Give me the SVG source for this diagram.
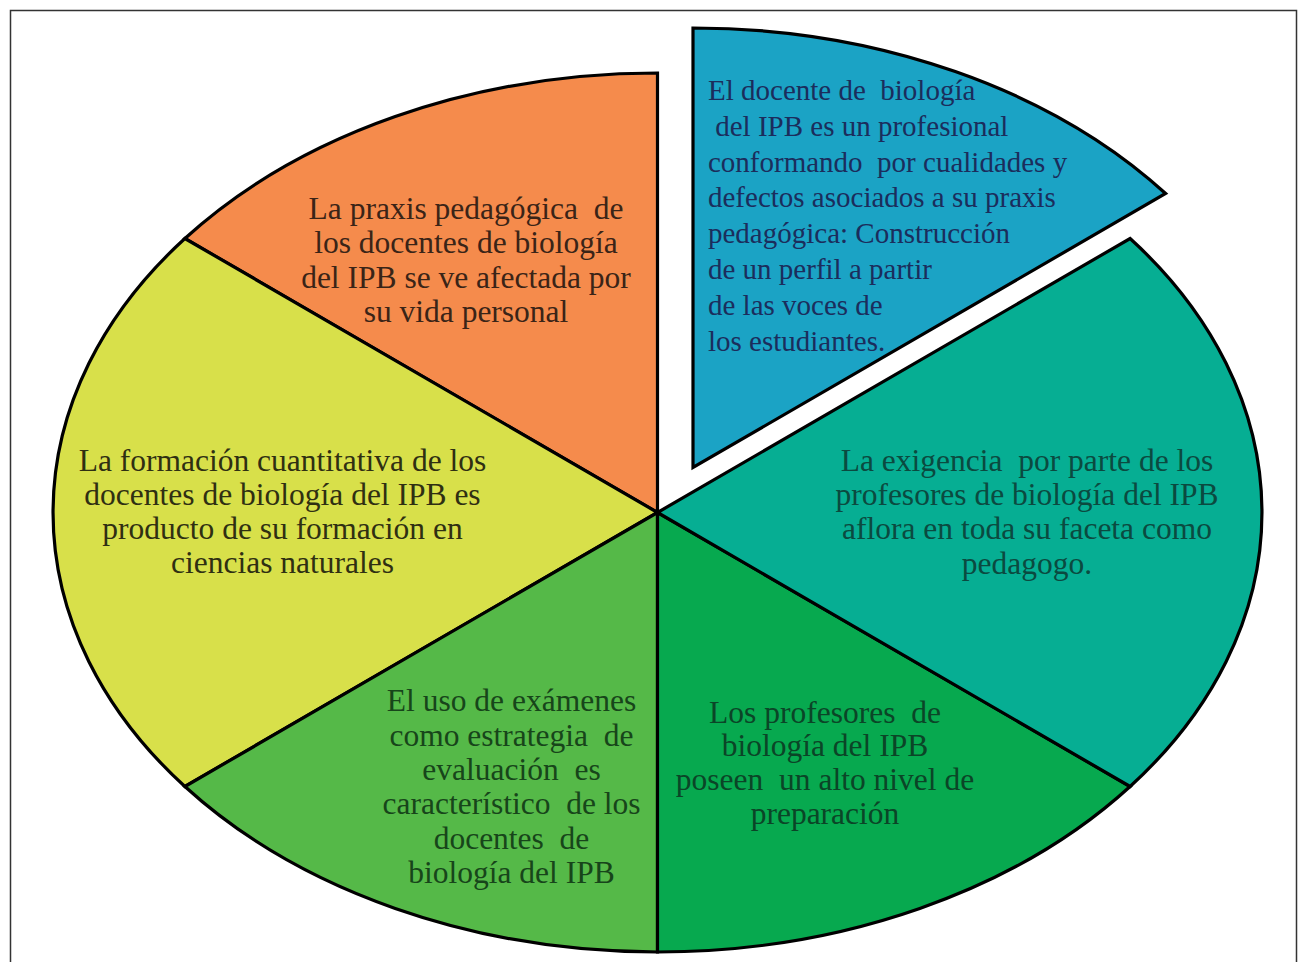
<svg xmlns="http://www.w3.org/2000/svg" width="1302" height="962" viewBox="0 0 1302 962">
<style>
.slice{stroke:#000;stroke-width:3.2;stroke-linejoin:miter}
text{font-family:"Liberation Serif","Times New Roman",serif;font-size:31.5px;white-space:pre}
.c{text-anchor:middle}
</style>
<rect x="0" y="0" width="1302" height="962" fill="#fff"/>
<path d="M10.5,975 V10.5 H1296.5 V975" fill="none" stroke="#333" stroke-width="1.5"/>
<g id="slice-orange">
<path class="slice" fill="#F58B4C" d="M657.5,512.5 L184.9,238.5 A604.5,439.5 0 0 1 657.5,73 Z"/>
<text class="c" fill="#3a2417" xml:space="preserve"><tspan x="466" y="219">La praxis pedagógica  de</tspan><tspan x="466" y="253">los docentes de biología</tspan><tspan x="466" y="288">del IPB se ve afectada por</tspan><tspan x="466" y="322">su vida personal</tspan></text>
</g>
<g id="slice-yellow">
<path class="slice" fill="#D8E04A" d="M657.5,512.5 L184.9,786.5 A604.5,439.5 0 0 1 184.9,238.5 Z"/>
<text class="c" fill="#2f2f12"><tspan x="282.5" y="471">La formación cuantitativa de los</tspan><tspan x="282.5" y="505">docentes de biología del IPB es</tspan><tspan x="282.5" y="539">producto de su formación en</tspan><tspan x="282.5" y="573">ciencias naturales</tspan></text>
</g>
<g id="slice-green">
<path class="slice" fill="#55B948" d="M657.5,512.5 L657.5,952 A604.5,439.5 0 0 1 184.9,786.5 Z"/>
<text class="c" fill="#17451a" xml:space="preserve"><tspan x="511.5" y="711">El uso de exámenes</tspan><tspan x="511.5" y="746">como estrategia  de</tspan><tspan x="511.5" y="780">evaluación  es</tspan><tspan x="511.5" y="814">característico  de los</tspan><tspan x="511.5" y="849">docentes  de</tspan><tspan x="511.5" y="883">biología del IPB</tspan></text>
</g>
<g id="slice-darkgreen">
<path class="slice" fill="#07A94F" d="M657.5,512.5 L1130.1,786.5 A604.5,439.5 0 0 1 657.5,952 Z"/>
<text class="c" fill="#0b4527" xml:space="preserve"><tspan x="825" y="723">Los profesores  de</tspan><tspan x="825" y="756">biología del IPB</tspan><tspan x="825" y="790">poseen  un alto nivel de</tspan><tspan x="825" y="824">preparación</tspan></text>
</g>
<g id="slice-teal">
<path class="slice" fill="#06AE93" d="M657.5,512.5 L1130.1,238.5 A604.5,439.5 0 0 1 1130.1,786.5 Z"/>
<text class="c" fill="#0b4a40" xml:space="preserve"><tspan x="1027" y="471">La exigencia  por parte de los</tspan><tspan x="1027" y="505">profesores de biología del IPB</tspan><tspan x="1027" y="539">aflora en toda su faceta como</tspan><tspan x="1027" y="574">pedagogo.</tspan></text>
</g>
<g id="slice-blue">
<path class="slice" fill="#1BA3C5" d="M693,467.5 L693,28 A604.5,439.5 0 0 1 1165.6,193.5 Z"/>
<text fill="#1b2d5c" style="font-size:29px" xml:space="preserve"><tspan x="708" y="100">El docente de  biología</tspan><tspan x="708" y="136"> del IPB es un profesional</tspan><tspan x="708" y="172">conformando  por cualidades y</tspan><tspan x="708" y="207">defectos asociados a su praxis</tspan><tspan x="708" y="243">pedagógica: Construcción</tspan><tspan x="708" y="279">de un perfil a partir</tspan><tspan x="708" y="315">de las voces de</tspan><tspan x="708" y="351">los estudiantes.</tspan></text>
</g>
<g id="connectors"></g>
</svg>
